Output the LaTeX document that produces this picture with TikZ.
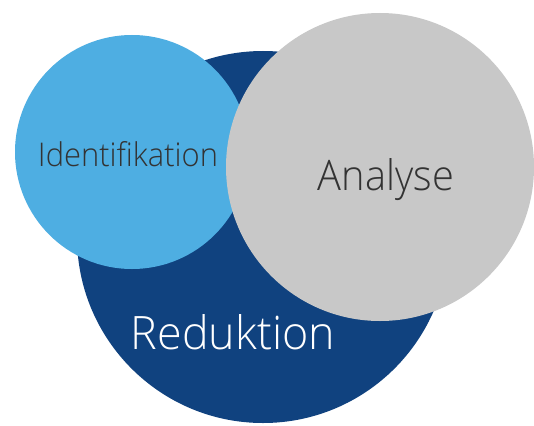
\documentclass[tikz,border=0pt]{standalone}
\usepackage{fontspec}
\setmainfont{Open Sans}
\newfontfamily\lightf{Open Sans Light}
\definecolor{darkblue}{HTML}{10427F}
\definecolor{lightblue}{HTML}{4EAEE2}
\definecolor{greyc}{HTML}{C8C8C8}
\definecolor{txt}{HTML}{333333}
\begin{document}
\begin{tikzpicture}[x=1pt,y=-1pt,
  disc/.style={circle,inner sep=0pt,draw=none},
  lbl/.style={inner sep=0pt,anchor=base,font=\lightf}]
\useasboundingbox[fill=white] (0,0) rectangle (534,425);
\node[disc,fill=darkblue,minimum size=372pt] (red) at (263,237) {};
\node[disc,fill=lightblue,minimum size=234pt] (ide) at (132,152) {};
\node[disc,fill=greyc,minimum size=308pt] (ana) at (380,167) {};
\node[lbl,text=txt] (tide) at (128,166) {\resizebox{180pt}{25pt}{Identifikation}};
\node[lbl,text=txt] (tana) at (386,190) {\resizebox{136pt}{32pt}{Analyse}};
\node[lbl,text=white] (tred) at (233,349) {\resizebox{204pt}{35pt}{Reduktion}};
\end{tikzpicture}
\end{document}
